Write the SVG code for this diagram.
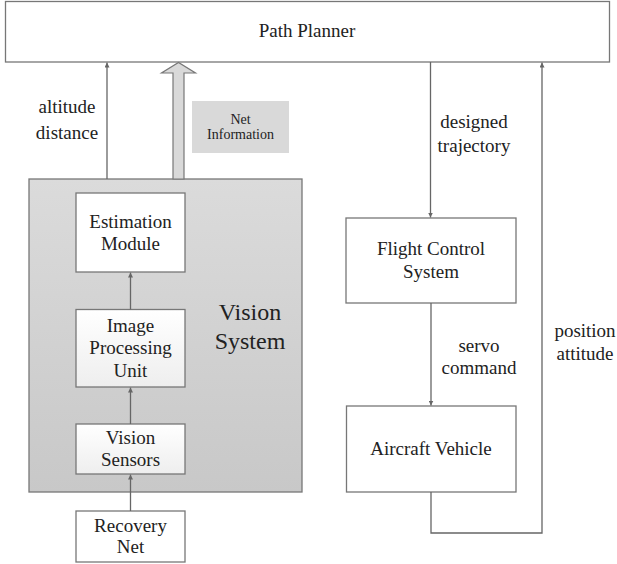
<svg xmlns="http://www.w3.org/2000/svg" width="617" height="564" viewBox="0 0 617 564" font-family="'Liberation Serif', 'DejaVu Serif', serif">
<style>
  text { font-family: "Liberation Serif", "Tinos", "DejaVu Serif", serif; fill: #222; text-anchor: middle; }
  .t { font-size: 19px; }
  .s { font-size: 14px; }
  .big { font-size: 24px; }
  .box { fill: #fff; stroke: #777; stroke-width: 1.3; }
  .gbox { fill: url(#lg); stroke: #777; stroke-width: 1.3; }
  .ln { fill: none; stroke: #666; stroke-width: 1.3; }
</style>
<defs>
  <linearGradient id="vs" x1="0" y1="0" x2="0" y2="1">
    <stop offset="0" stop-color="#dbdbdb"/>
    <stop offset="1" stop-color="#c8c8c8"/>
  </linearGradient>
  <linearGradient id="lg" x1="0" y1="0" x2="0" y2="1">
    <stop offset="0" stop-color="#ffffff"/>
    <stop offset="1" stop-color="#eeeeee"/>
  </linearGradient>
  <marker id="ah" viewBox="0 0 10 10" refX="10" refY="5" markerWidth="5" markerHeight="5" orient="auto" markerUnits="userSpaceOnUse">
    <path d="M0,0 L10,5 L0,10 z" fill="#666"/>
  </marker>
</defs>

<g id="path-planner">
  <rect class="box" x="5.5" y="1.5" width="604" height="60.5"/>
  <text class="t" x="307" y="37">Path Planner</text>
</g>

<g id="vision-system">
  <rect x="29" y="179" width="273" height="313" fill="url(#vs)" stroke="#777" stroke-width="1.3"/>
  <text class="big" x="250" y="320">Vision</text>
  <text class="big" x="250" y="349">System</text>
</g>

<g id="estimation-module">
  <rect class="box" x="76" y="193" width="109" height="79"/>
  <text class="t" x="130.5" y="228">Estimation</text>
  <text class="t" x="130.5" y="250">Module</text>
</g>

<g id="image-processing-unit">
  <rect class="gbox" x="76" y="309.5" width="109" height="77.5"/>
  <text class="t" x="130.5" y="332">Image</text>
  <text class="t" x="130.5" y="354">Processing</text>
  <text class="t" x="130.5" y="377">Unit</text>
</g>

<g id="vision-sensors">
  <rect class="gbox" x="76" y="424" width="109" height="50"/>
  <text class="t" x="130.5" y="444">Vision</text>
  <text class="t" x="130.5" y="466">Sensors</text>
</g>

<g id="recovery-net">
  <rect class="box" x="76" y="511" width="109" height="51"/>
  <text class="t" x="130.5" y="532">Recovery</text>
  <text class="t" x="130.5" y="553">Net</text>
</g>

<g id="flight-control-system">
  <rect class="box" x="346" y="218" width="170" height="85"/>
  <text class="t" x="431" y="255">Flight Control</text>
  <text class="t" x="431" y="278">System</text>
</g>

<g id="aircraft-vehicle">
  <rect class="box" x="346.5" y="406" width="169.5" height="86"/>
  <text class="t" x="431" y="455">Aircraft Vehicle</text>
</g>

<g id="net-information">
  <rect x="192" y="101" width="97" height="52" fill="#d9d9d9"/>
  <text class="s" x="240.5" y="124">Net</text>
  <text class="s" x="240.5" y="139">Information</text>
</g>

<g id="connectors">
  <line class="ln" x1="107" y1="179" x2="107" y2="62.5" marker-end="url(#ah)"/>
  <polygon points="173,179 173,73 161.5,73 178.5,62.5 195.5,73 184,73 184,179" fill="#d9d9d9" stroke="#777" stroke-width="1.2"/>
  <line class="ln" x1="130.5" y1="309.5" x2="130.5" y2="272.5" marker-end="url(#ah)"/>
  <line class="ln" x1="130.5" y1="424" x2="130.5" y2="387.5" marker-end="url(#ah)"/>
  <line class="ln" x1="130.5" y1="511" x2="130.5" y2="474.5" marker-end="url(#ah)"/>
  <line class="ln" x1="430.5" y1="62" x2="430.5" y2="217.5" marker-end="url(#ah)"/>
  <line class="ln" x1="431" y1="303" x2="431" y2="405.5" marker-end="url(#ah)"/>
  <polyline class="ln" points="431,492 431,533 542,533 542,62.5" marker-end="url(#ah)"/>
</g>

<g id="labels">
  <text class="t" x="67" y="113">altitude</text>
  <text class="t" x="67" y="139">distance</text>
  <text class="t" x="474" y="128">designed</text>
  <text class="t" x="474" y="152">trajectory</text>
  <text class="t" x="479" y="352">servo</text>
  <text class="t" x="479" y="374">command</text>
  <text class="t" x="585" y="337">position</text>
  <text class="t" x="585" y="360">attitude</text>
</g>
</svg>
